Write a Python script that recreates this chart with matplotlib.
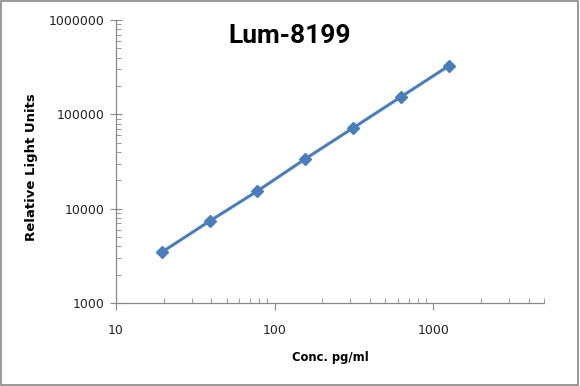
import numpy as np
import matplotlib
matplotlib.use("Agg")
import matplotlib.pyplot as plt
from matplotlib.ticker import LogLocator, FixedLocator, NullFormatter, FuncFormatter
import matplotlib.patches as patches

# standard curve
conc = [19.5, 39, 78, 156, 312.5, 625, 1250]
rlu = [3470, 7400, 15400, 33700, 71800, 153000, 326000]

title = "Lum-8199"
xlabel = "Conc. pg/ml"
ylabel = "Relative Light Units"

fig = plt.figure(figsize=(5.8, 3.86), dpi=100)
ax = fig.add_axes([0.2, 0.215, 0.738, 0.733])

ax.plot(conc, rlu, color="#4a7ebb", lw=2.2, marker="D", markersize=6,
        markerfacecolor="#4a7ebb", markeredgecolor="#4a7ebb")

ax.set_xscale("log")
ax.set_yscale("log")
ax.set_xlim(10, 5000)
ax.set_ylim(1000, 1000000)

for s in ["top", "right"]:
    ax.spines[s].set_visible(False)
for s in ["left", "bottom"]:
    ax.spines[s].set_color("#888888")
    ax.spines[s].set_linewidth(0.9)

fmt = FuncFormatter(lambda v, p: f"{int(round(v))}")
ax.xaxis.set_major_locator(FixedLocator([10, 100, 1000]))
ax.yaxis.set_major_locator(FixedLocator([1000, 10000, 100000, 1000000]))
ax.xaxis.set_major_formatter(fmt)
ax.yaxis.set_major_formatter(fmt)
ax.xaxis.set_minor_locator(LogLocator(base=10, subs=np.arange(2, 10)))
ax.yaxis.set_minor_locator(LogLocator(base=10, subs=np.arange(2, 10)))
ax.xaxis.set_minor_formatter(NullFormatter())
ax.yaxis.set_minor_formatter(NullFormatter())

ax.tick_params(axis="x", which="major", direction="out", length=5, color="#888888",
               labelsize=9, pad=10, labelcolor="#222222")
ax.tick_params(axis="y", which="major", direction="inout", length=8, color="#888888",
               labelsize=9, pad=4, labelcolor="#222222")
ax.tick_params(which="minor", direction="in", length=3.5, color="#888888")

ax.set_xlabel(xlabel, fontsize=8.3, fontweight="bold", labelpad=10)
ax.set_ylabel(ylabel, fontsize=9.5, fontweight="bold", va="center")
ax.yaxis.set_label_coords((31 - 116) / (580 * 0.738), 0.48)

fig.text(289.5 / 580, 1 - 36 / 386, title, fontsize=19, fontweight="bold",
         family=["Roboto", "DejaVu Sans"], ha="center", va="center")

fig.patches.append(patches.Rectangle((0.002, 0.003), 0.995, 0.994, transform=fig.transFigure,
                                     fill=False, edgecolor="#888888", lw=1.2))

fig.savefig("out.png", dpi=100)
